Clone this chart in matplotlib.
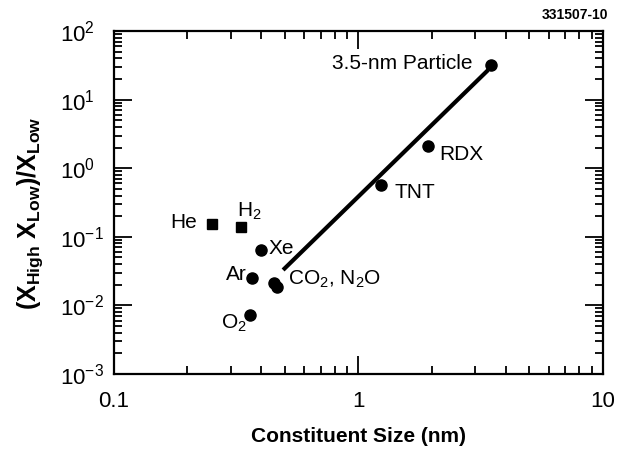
import numpy as np
import matplotlib
matplotlib.use("Agg")
import matplotlib.pyplot as plt
from matplotlib.ticker import LogLocator, FixedLocator, FuncFormatter, NullFormatter

plt.rcParams['font.family'] = ['Liberation Sans', 'DejaVu Sans']
plt.rcParams['mathtext.fontset'] = 'custom'
plt.rcParams['mathtext.rm'] = 'Liberation Sans'
plt.rcParams['mathtext.it'] = 'Liberation Sans'
plt.rcParams['mathtext.bf'] = 'Liberation Sans:bold'

# Data (size in nm, ratio)
circle_names = ['Xe', 'Ar', 'CO2', 'N2O', 'O2', 'TNT', 'RDX', '3.5-nm Particle']
circle_size = [0.398, 0.368, 0.451, 0.465, 0.360, 1.24, 1.93, 3.5]
circle_ratio = [0.0644, 0.0253, 0.021, 0.0184, 0.0072, 0.569, 2.13, 31.9]

square_names = ['He', 'H2']
square_size = [0.252, 0.330]
square_ratio = [0.154, 0.140]

fit_size = [0.492, 3.39]
fit_ratio = [0.0328, 27.0]

# label text, anchor (x, y), alignment
labels = [
    ('3.5-nm Particle', 2.94, 34.0, 'right', 'center'),
    ('RDX', 2.15, 1.56, 'left', 'center'),
    ('TNT', 1.41, 0.436, 'left', 'center'),
    ('He', 0.218, 0.159, 'right', 'center'),
    ('H$_2$', 0.318, 0.232, 'left', 'center'),
    ('Xe', 0.427, 0.068, 'left', 'center'),
    ('Ar', 0.35, 0.0277, 'right', 'center'),
    ('CO$_2$, N$_2$O', 0.516, 0.0236, 'left', 'center'),
    ('O$_2$', 0.31, 0.0055, 'center', 'center'),
]

fig = plt.figure(figsize=(6.19, 4.51), dpi=100)
ax = fig.add_axes([0.184, 0.171, 0.790, 0.760])

ax.plot(fit_size, fit_ratio, color='black', lw=3.0, solid_capstyle='butt', zorder=2)
ax.plot(circle_size, circle_ratio, 'o', color='black', ms=8, zorder=3)
ax.plot(square_size, square_ratio, 's', color='black', ms=6.5, zorder=3)

for txt, x, y, ha, va in labels:
    ax.text(x, y, txt, fontsize=15, ha=ha, va=va)

ax.set_xscale('log')
ax.set_yscale('log')
ax.set_xlim(0.1, 10)
ax.set_ylim(1e-3, 1e2)

ax.xaxis.set_major_locator(FixedLocator([0.1, 1, 10]))
ax.xaxis.set_major_formatter(FuncFormatter(lambda v, p: '%g' % v))
ax.yaxis.set_major_locator(FixedLocator([1e-3, 1e-2, 1e-1, 1, 10, 100]))
ax.yaxis.set_major_formatter(FuncFormatter(lambda v, p: r'$10^{%d}$' % round(np.log10(v))))
ax.xaxis.set_minor_locator(LogLocator(base=10, subs=np.arange(2, 10), numticks=20))
ax.yaxis.set_minor_locator(LogLocator(base=10, subs=np.arange(2, 10), numticks=20))
ax.xaxis.set_minor_formatter(NullFormatter())
ax.yaxis.set_minor_formatter(NullFormatter())

ax.tick_params(which='both', direction='in', top=True, right=True, width=1.3, labelsize=16)
ax.tick_params(which='major', length=13)
ax.tick_params(which='minor', length=6)
ax.tick_params(axis='x', which='major', pad=12)
ax.tick_params(axis='y', which='major', pad=39)
for lab in ax.get_yticklabels():
    lab.set_horizontalalignment('left')

for sp in ax.spines.values():
    sp.set_linewidth(1.6)

ax.set_xlabel('Constituent Size (nm)', fontsize=15, fontweight='bold')
ax.xaxis.set_label_coords(0.5, -0.155)
ax.set_ylabel(r'$\mathbf{(X_{High}\ X_{Low})/X_{Low}}$', fontsize=18)
ax.yaxis.set_label_coords(-0.14, 0.47)

fig.text(0.982, 0.967, '331507-10', fontsize=10, fontweight='bold', ha='right', va='center')

fig.savefig('out.png', dpi=100)
